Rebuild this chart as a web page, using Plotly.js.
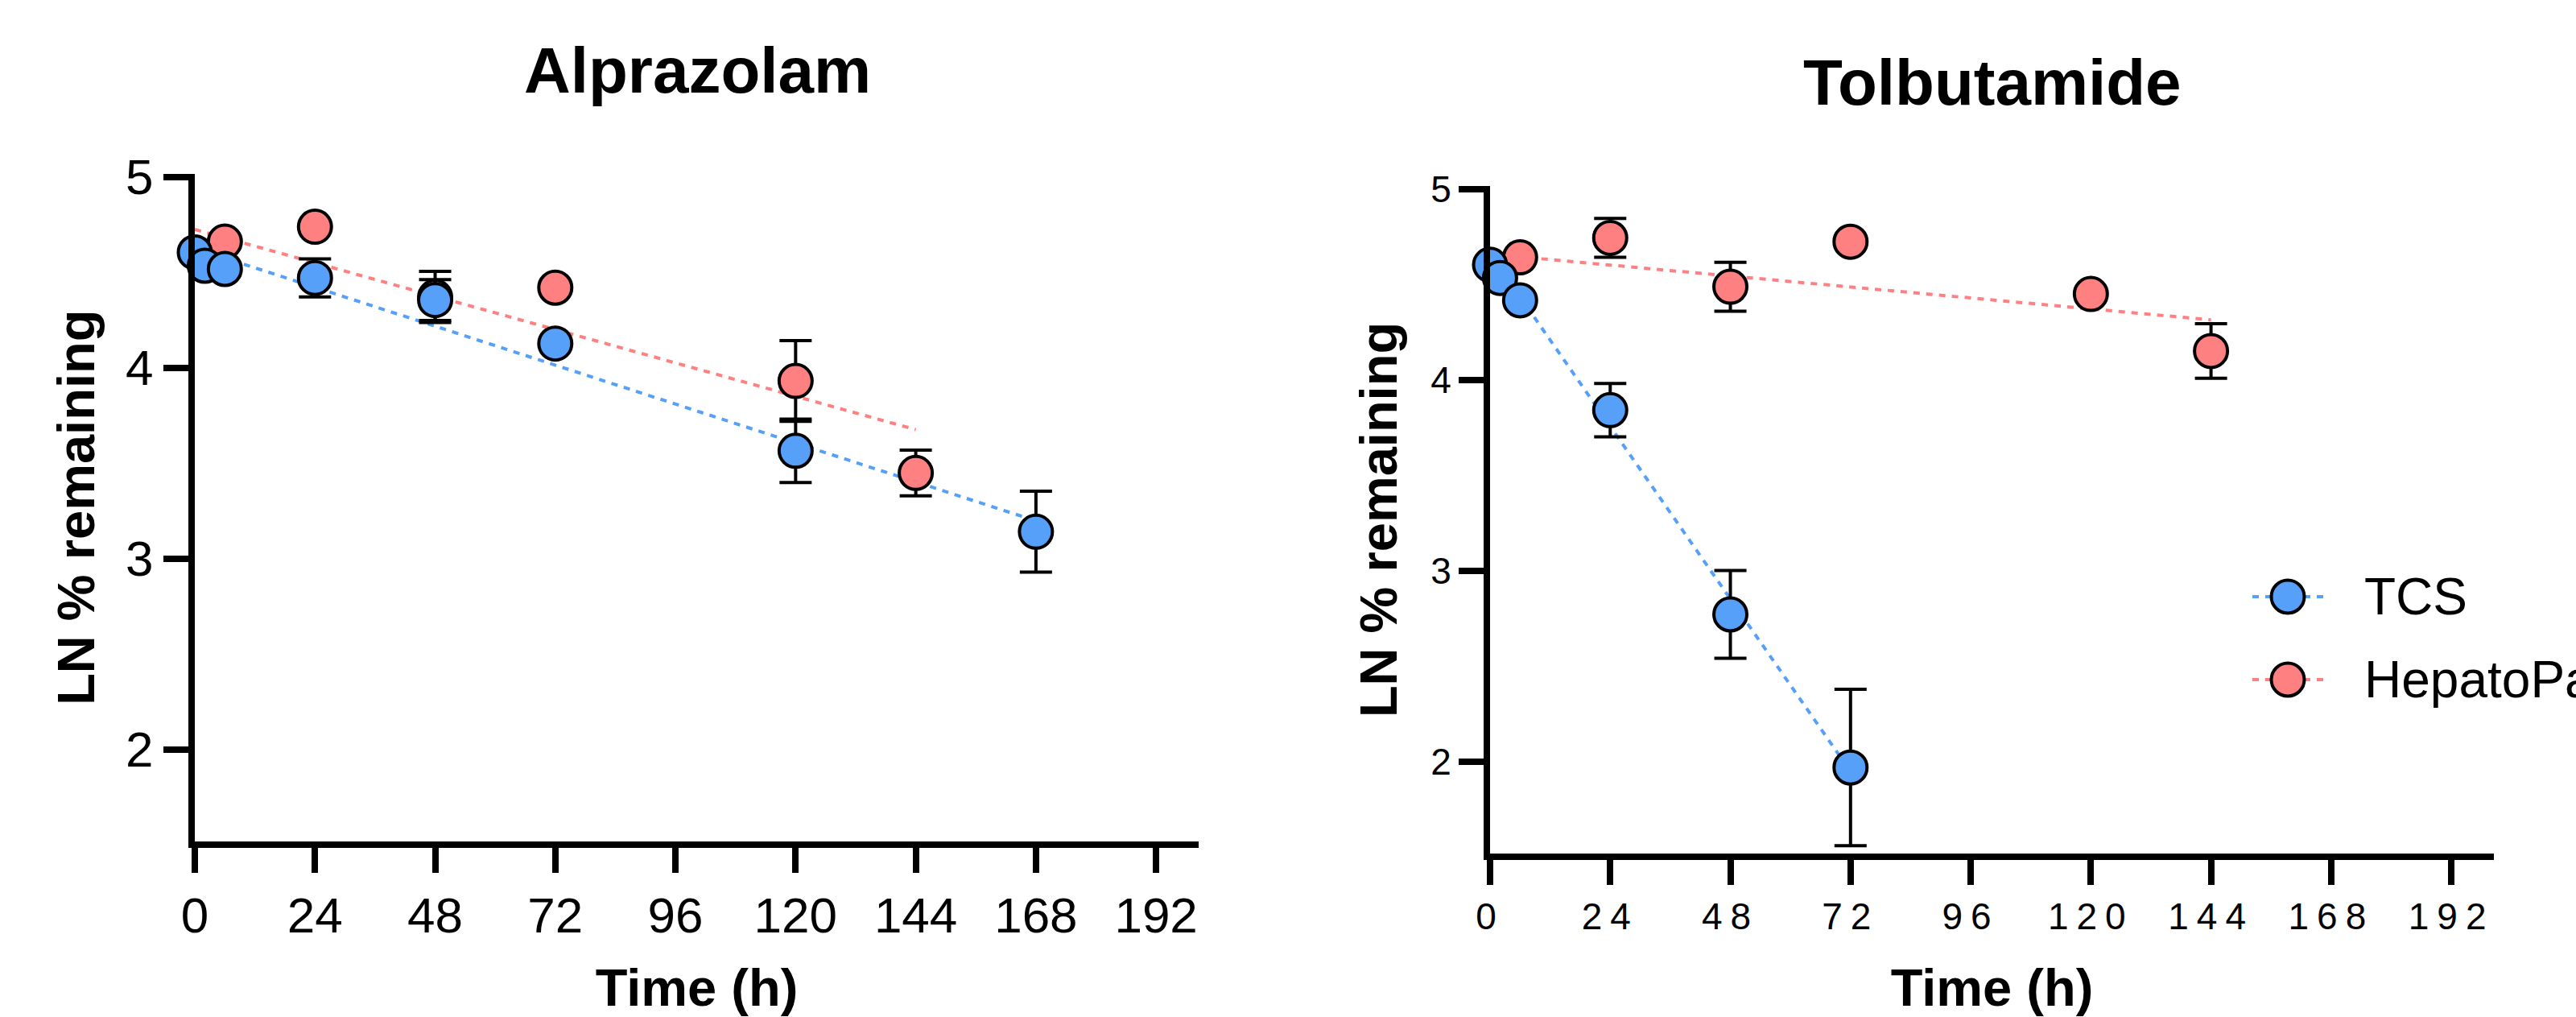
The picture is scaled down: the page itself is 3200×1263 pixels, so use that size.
<!DOCTYPE html>
<html><head><meta charset="utf-8">
<script src="https://cdn.plot.ly/plotly-3.0.1.min.js"></script>
<style>
html,body{margin:0;padding:0;background:#fff;}
#chart{width:3200px;height:1263px;}
.x2tick text{letter-spacing:10px;}
</style></head><body><div id="chart"></div>
<script>
// ---- data ----
const seriesNames = ['TCS', 'HepatoPac'];
const panelTitles = ['Alprazolam', 'Tolbutamide'];
const xTitle = 'Time (h)';
const yTitle = 'LN % remaining';
const xTickVals = [0, 24, 48, 72, 96, 120, 144, 168, 192];
const xTickText = ['0', '24', '48', '72', '96', '120', '144', '168', '192'];
const yTickVals = [2, 3, 4, 5];
const yTickText = ['2', '3', '4', '5'];

// Alprazolam
const alpTcsTime = [0, 2, 6, 24, 48, 72, 120, 168];
const alpTcsLn   = [4.604, 4.534, 4.517, 4.470, 4.354, 4.126, 3.564, 3.140];
const alpTcsErr  = [0, 0, 0, 0.100, 0.107, 0, 0.166, 0.212];
const alpHepTime = [6, 24, 48, 72, 120, 144];
const alpHepLn   = [4.660, 4.738, 4.370, 4.419, 3.930, 3.448];
const alpHepErr  = [0, 0, 0.134, 0, 0.212, 0.120];
const alpTcsFitTime = [0, 168];
const alpTcsFitLn   = [4.625, 3.197];
const alpHepFitTime = [0, 144];
const alpHepFitLn   = [4.724, 3.675];

// Tolbutamide
const tolTcsTime = [0, 2, 6, 24, 48, 72];
const tolTcsLn   = [4.604, 4.535, 4.418, 3.842, 2.771, 1.968];
const tolTcsErr  = [0, 0, 0, 0.140, 0.230, 0.410];
const tolHepTime = [6, 24, 48, 72, 120, 144];
const tolHepLn   = [4.643, 4.745, 4.489, 4.725, 4.451, 4.152];
const tolHepErr  = [0, 0.102, 0.128, 0, 0, 0.143];
const tolTcsFitTime = [0, 72];
const tolTcsFitLn   = [4.662, 1.947];
const tolHepFitTime = [0, 144];
const tolHepFitLn   = [4.660, 4.315];

// ---- styles ----
const FONT = 'Liberation Sans, Arial, sans-serif';
const BLUE = '#56A0FA';
const RED = '#FF8080';
const W = 3200, H = 1263;
const px = v => v / W;
const py = v => (H - v) / H;

function fitTrace(x, y, color, xa, ya) {
  return {x: x, y: y, xaxis: xa, yaxis: ya, mode: 'lines', type: 'scatter',
    line: {color: color, width: 4, dash: '8px,8px'}, hoverinfo: 'skip', showlegend: false};
}
function ptTrace(x, y, err, color, name, xa, ya) {
  return {x: x, y: y, xaxis: xa, yaxis: ya, mode: 'markers', type: 'scatter', name: name,
    cliponaxis: false, showlegend: false,
    marker: {size: 41, color: color, line: {color: '#000', width: 4}},
    error_y: {type: 'data', array: err, visible: true, color: '#000', thickness: 4, width: 20}};
}

const traces = [
  fitTrace(alpHepFitTime, alpHepFitLn, RED, 'x', 'y'),
  fitTrace(alpTcsFitTime, alpTcsFitLn, BLUE, 'x', 'y'),
  ptTrace(alpHepTime, alpHepLn, alpHepErr, RED, seriesNames[1], 'x', 'y'),
  ptTrace(alpTcsTime, alpTcsLn, alpTcsErr, BLUE, seriesNames[0], 'x', 'y'),
  fitTrace(tolHepFitTime, tolHepFitLn, RED, 'x2', 'y2'),
  fitTrace(tolTcsFitTime, tolTcsFitLn, BLUE, 'x2', 'y2'),
  ptTrace(tolHepTime, tolHepLn, tolHepErr, RED, seriesNames[1], 'x2', 'y2'),
  ptTrace(tolTcsTime, tolTcsLn, tolTcsErr, BLUE, seriesNames[0], 'x2', 'y2')
];

function xAxis(domain, anchor, fs, standoff) {
  return {domain: domain, anchor: anchor, range: [0, 200.5], tickmode: 'array',
    tickvals: xTickVals, ticktext: xTickText, ticks: 'outside', ticklen: 31, tickwidth: 8,
    tickcolor: '#000', showline: true, linewidth: 8, linecolor: '#000', showgrid: false,
    zeroline: false, tickfont: {family: FONT, size: fs, color: '#000'},
    title: {text: xTitle, font: {family: FONT, size: 65, color: '#000', weight: 700}, standoff: standoff}};
}
function yAxis(domain, anchor, fs, standoff) {
  return {domain: domain, anchor: anchor, range: [1.517, 5.017], tickmode: 'array',
    tickvals: yTickVals, ticktext: yTickText, ticks: 'outside', ticklen: 31, tickwidth: 8,
    tickcolor: '#000', showline: true, linewidth: 8, linecolor: '#000', showgrid: false,
    zeroline: false, tickfont: {family: FONT, size: fs, color: '#000'},
    title: {text: yTitle, font: {family: FONT, size: 65, color: '#000', weight: 700}, standoff: standoff}};
}

const shapes = [];
const annotations = [
  {text: panelTitles[0], xref: 'paper', yref: 'paper', x: px(866), y: py(87), xanchor: 'center', yanchor: 'middle',
   showarrow: false, font: {family: FONT, size: 80, color: '#000', weight: 700}},
  {text: panelTitles[1], xref: 'paper', yref: 'paper', x: px(2475), y: py(103), xanchor: 'center', yanchor: 'middle',
   showarrow: false, font: {family: FONT, size: 80, color: '#000', weight: 700}}
];
// custom legend (large symbols)
const legendRows = [[seriesNames[0], BLUE, 741], [seriesNames[1], RED, 844]];
legendRows.forEach(([name, color, yc]) => {
  shapes.push({type: 'line', xref: 'paper', yref: 'paper', xsizemode: 'pixel', ysizemode: 'pixel',
    xanchor: px(2842), yanchor: py(yc), x0: -44, x1: 45, y0: 0, y1: 0,
    line: {color: color, width: 4, dash: '8px,8px'}, layer: 'above'});
  shapes.push({type: 'circle', xref: 'paper', yref: 'paper', xsizemode: 'pixel', ysizemode: 'pixel',
    xanchor: px(2842), yanchor: py(yc), x0: -20.5, x1: 20.5, y0: -20.5, y1: 20.5,
    fillcolor: color, line: {color: '#000', width: 4}, layer: 'above'});
  annotations.push({text: name, xref: 'paper', yref: 'paper', x: px(2935), y: py(yc),
    xanchor: 'left', yanchor: 'middle', showarrow: false,
    font: {family: FONT, size: 64, color: '#000'}});
});

const layout = {
  width: W, height: H, margin: {l: 0, r: 0, t: 0, b: 0},
  paper_bgcolor: '#fff', plot_bgcolor: 'rgba(0,0,0,0)', showlegend: false,
  font: {family: FONT, color: '#000'},
  xaxis: xAxis([px(242), px(1489)], 'y', 62, 40),
  yaxis: yAxis([py(1045), py(215.5)], 'x', 62, 20),
  xaxis2: xAxis([px(1851), px(3098)], 'y2', 46, 70),
  yaxis2: yAxis([py(1060), py(231)], 'x2', 46, 23),
  shapes: shapes,
  annotations: annotations
};

Plotly.newPlot('chart', traces, layout, {staticPlot: true, displayModeBar: false});
</script></body></html>
